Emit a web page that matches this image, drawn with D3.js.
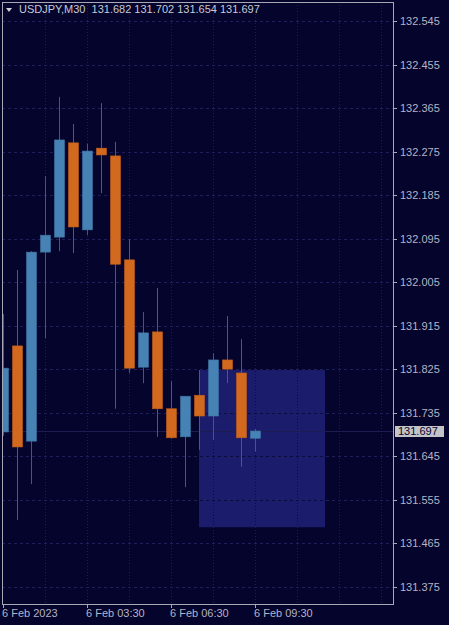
<!DOCTYPE html>
<html>
<head>
<meta charset="utf-8">
<script src="https://cdn.jsdelivr.net/npm/d3@7"></script>
<style>
    html, body { margin: 0; padding: 0; background: #04042c; }
    svg { display: block; }
    text { font-family: "Liberation Sans", Arial, sans-serif; font-size: 11px; }
</style>
</head>
<body>
<div id="chart"></div>
<script>
// 30-minute bars, 6 Feb 2023
const times = ['00:30', '01:00', '01:30', '02:00', '02:30', '03:00', '03:30', '04:00', '04:30', '05:00',
    '05:30', '06:00', '06:30', '07:00', '07:30', '08:00', '08:30', '09:00', '09:30'];
const opens  = [131.695, 131.873, 131.676, 132.067, 132.098, 132.293, 132.113, 132.282, 132.266, 132.051,
    131.829, 131.902, 131.743, 131.685, 131.771, 131.728, 131.844, 131.817, 131.682];
const highs  = [131.939, 132.030, 132.069, 132.224, 132.388, 132.332, 132.291, 132.375, 132.295, 132.094,
    131.943, 131.993, 131.800, 131.769, 131.823, 131.858, 131.935, 131.887, 131.702];
const lows   = [131.687, 131.513, 131.587, 131.889, 132.069, 132.065, 132.102, 132.189, 131.743, 131.817,
    131.796, 131.685, 131.681, 131.581, 131.658, 131.678, 131.796, 131.623, 131.654];
const closes = [131.827, 131.664, 132.067, 132.102, 132.299, 132.119, 132.276, 132.268, 132.042, 131.827,
    131.900, 131.743, 131.683, 131.769, 131.728, 131.844, 131.825, 131.683, 131.697];

const priceTicks = [132.545, 132.455, 132.365, 132.275, 132.185, 132.095, 132.005,
    131.915, 131.825, 131.735, 131.645, 131.555, 131.465, 131.375];
const timeLabels = [
    { t: '00:30', label: '6 Feb 2023' },
    { t: '03:30', label: '6 Feb 03:30' },
    { t: '06:30', label: '6 Feb 06:30' },
    { t: '09:30', label: '6 Feb 09:30' },
];
const gridTimes = ['02:00', '03:30', '05:00', '06:30', '08:00', '09:30', '11:00', '12:30', '14:00'];

// drawn rectangle object (time / price corners)
const boxTimes = ['07:30', '12:00'];
const boxPrices = [131.823, 131.498];

const symbol = 'USDJPY,M30';

const W = 449, H = 625;
const frame = { left: 2, top: 2, right: 393, bottom: 604 };
const bg = '#04042c';
const bullColor = '#4682b4', bearColor = '#d2691e';
const bullWick = '#2f5f8c', bearWick = '#8a4a22';
const gridColor = '#1e1e58';
const axisColor = '#a8a8b4';
const textColor = '#b4b4c4';

const parse = d3.timeParse('%Y-%m-%d %H:%M');
const T = s => parse('2023-02-06 ' + s);

const x = d3.scaleTime()
    .domain([T('00:30'), T('01:00')])
    .range([3, 17]);
const y = d3.scaleLinear()
    .domain([131.375, 132.545])
    .range([586.7, 21]);

const bars = times.map((t, i) => ({
    t: T(t), open: opens[i], high: highs[i], low: lows[i], close: closes[i],
}));
const last = bars[bars.length - 1];

const svg = d3.select('#chart').append('svg')
    .attr('width', W).attr('height', H);

svg.append('rect').attr('width', W).attr('height', H).attr('fill', bg);

const defs = svg.append('defs');
defs.append('clipPath').attr('id', 'plot-clip')
    .append('rect')
    .attr('x', frame.left).attr('y', frame.top)
    .attr('width', frame.right - frame.left)
    .attr('height', frame.bottom - frame.top);

const box = {
    x: x(T(boxTimes[0])),
    y: y(boxPrices[0]),
    w: x(T(boxTimes[1])) - x(T(boxTimes[0])),
    h: y(boxPrices[1]) - y(boxPrices[0]),
};
defs.append('clipPath').attr('id', 'box-clip')
    .append('rect')
    .attr('x', box.x).attr('y', box.y).attr('width', box.w).attr('height', box.h);

const plot = svg.append('g').attr('clip-path', 'url(#plot-clip)');

// rectangle object (drawn as background)
plot.append('rect')
    .attr('x', box.x).attr('y', box.y)
    .attr('width', box.w).attr('height', box.h)
    .attr('fill', '#1c1c6c');

// grid: normal, and darker where it crosses the rectangle
function drawGrid(g, color) {
    g.selectAll('.hgrid')
        .data(priceTicks)
        .join('line')
        .attr('class', 'hgrid')
        .attr('x1', frame.left).attr('x2', frame.right)
        .attr('y1', d => Math.round(y(d)) + 0.5).attr('y2', d => Math.round(y(d)) + 0.5)
        .attr('stroke', color)
        .attr('stroke-dasharray', '3,3');

    g.selectAll('.vgrid')
        .data(gridTimes)
        .join('line')
        .attr('class', 'vgrid')
        .attr('x1', d => Math.round(x(T(d))) + 0.5).attr('x2', d => Math.round(x(T(d))) + 0.5)
        .attr('y1', frame.top).attr('y2', frame.bottom)
        .attr('stroke', color)
        .attr('stroke-dasharray', '1,2');
}
drawGrid(plot.append('g'), gridColor);
drawGrid(plot.append('g').attr('clip-path', 'url(#box-clip)'), '#0c0c3a');

// last price line
plot.append('line')
    .attr('x1', frame.left).attr('x2', frame.right)
    .attr('y1', Math.round(y(last.close)) + 0.5).attr('y2', Math.round(y(last.close)) + 0.5)
    .attr('stroke', '#1c1c50');

// candles
const candle = plot.selectAll('.candle')
    .data(bars)
    .join('g')
    .attr('class', 'candle');

candle.append('line')
    .attr('x1', d => Math.round(x(d.t)) + 0.5)
    .attr('x2', d => Math.round(x(d.t)) + 0.5)
    .attr('y1', d => y(d.high))
    .attr('y2', d => y(d.low))
    .attr('stroke', d => d.close >= d.open ? bullWick : bearWick)
    .attr('stroke-width', 1);

candle.append('rect')
    .attr('x', d => Math.round(x(d.t)) - 4.5)
    .attr('y', d => y(Math.max(d.open, d.close)))
    .attr('width', 10)
    .attr('height', d => Math.max(1, Math.abs(y(d.open) - y(d.close))))
    .attr('fill', d => d.close >= d.open ? bullColor : bearColor)
    .attr('stroke', d => d.close >= d.open ? '#3f75a3' : '#c0601b')
    .attr('stroke-width', 0.6);

// frame
svg.append('rect')
    .attr('x', frame.left + 0.5).attr('y', frame.top + 0.5)
    .attr('width', frame.right - frame.left)
    .attr('height', frame.bottom - frame.top)
    .attr('fill', 'none')
    .attr('stroke', axisColor);

// price axis
const yAxis = svg.append('g');
yAxis.selectAll('line')
    .data(priceTicks)
    .join('line')
    .attr('x1', frame.right).attr('x2', frame.right + 4)
    .attr('y1', d => Math.round(y(d)) + 0.5).attr('y2', d => Math.round(y(d)) + 0.5)
    .attr('stroke', axisColor);
yAxis.selectAll('text')
    .data(priceTicks)
    .join('text')
    .attr('x', 400)
    .attr('y', d => y(d) + 4)
    .attr('fill', textColor)
    .text(d => d.toFixed(3));

// last price label
const lp = svg.append('g');
lp.append('rect')
    .attr('x', 395).attr('y', Math.round(y(last.close)) - 5)
    .attr('width', 49).attr('height', 11)
    .attr('fill', '#c4c4c8');
lp.append('text')
    .attr('x', 398).attr('y', y(last.close) + 4)
    .attr('fill', '#04042c')
    .text(last.close.toFixed(3));

// time axis
const xAxis = svg.append('g');
xAxis.selectAll('line')
    .data(timeLabels)
    .join('line')
    .attr('x1', d => Math.round(x(T(d.t))) + 0.5).attr('x2', d => Math.round(x(T(d.t))) + 0.5)
    .attr('y1', frame.bottom).attr('y2', frame.bottom + 4)
    .attr('stroke', axisColor);
xAxis.selectAll('text')
    .data(timeLabels)
    .join('text')
    .attr('x', d => x(T(d.t)) - 1)
    .attr('y', 617)
    .attr('fill', textColor)
    .text(d => d.label);

// header
svg.append('path')
    .attr('d', 'M6,8 L12,8 L9,12 Z')
    .attr('fill', '#d0d0d8');
svg.append('text')
    .attr('x', 19).attr('y', 13)
    .attr('fill', '#c8c8d4')
    .style('white-space', 'pre')
    .text(`${symbol}  ${[last.open, last.high, last.low, last.close].map(v => v.toFixed(3)).join(' ')}`);
</script>
</body>
</html>
